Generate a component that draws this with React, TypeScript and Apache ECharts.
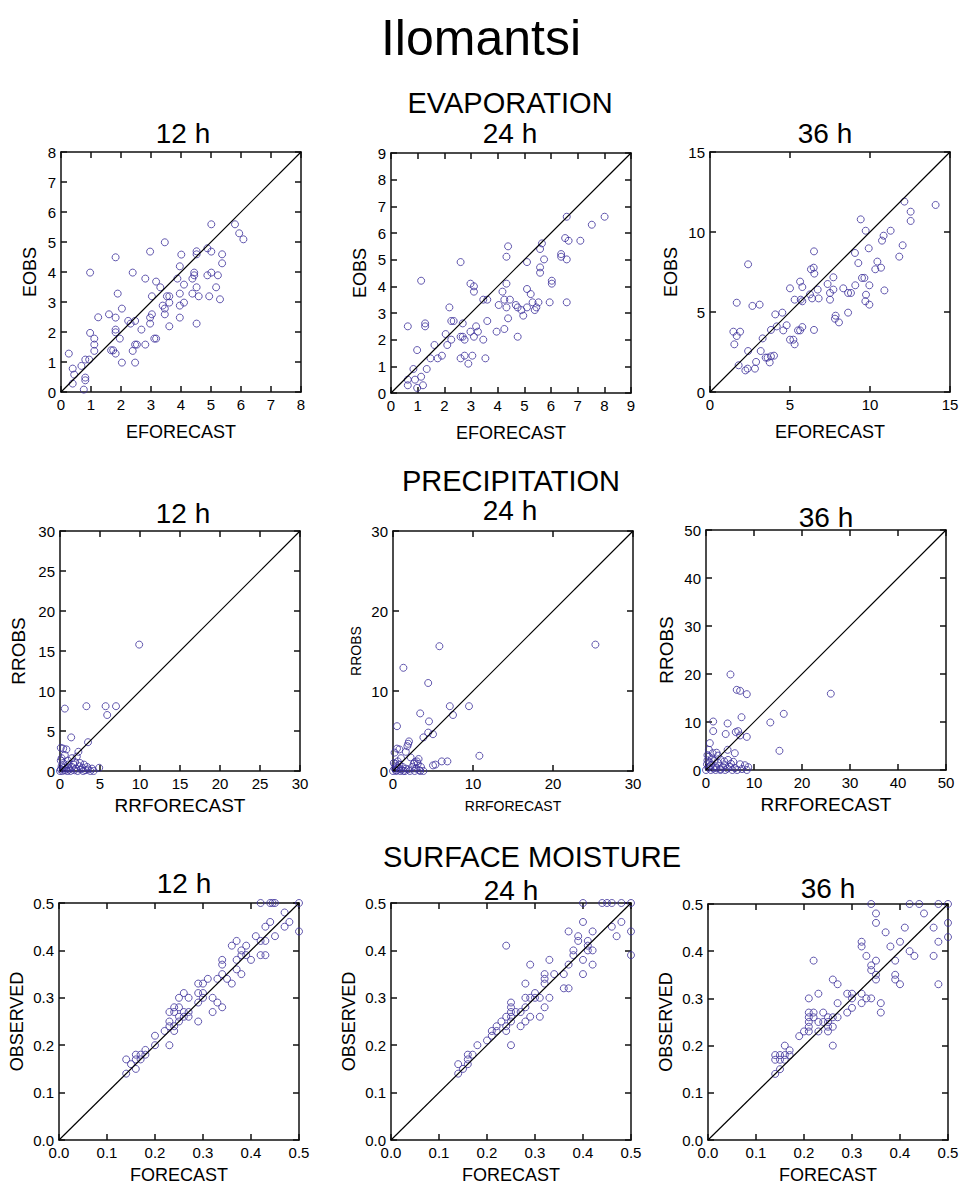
import React, { useEffect, useRef } from "react";
import * as echarts from "echarts";

// ---------- DATA ----------
const mainTitle = "Ilomantsi";
const sectionTitles = ["EVAPORATION", "PRECIPITATION", "SURFACE MOISTURE"];
const leadTimes = ["12 h", "24 h", "36 h"];

const evap12: number[][] = [
  [0.26, 1.28], [0.39, 0.78], [0.44, 0.58], [0.39, 0.28], [0.76, 0.08], [0.81, 0.48], [0.81, 0.39], [0.68, 0.87],
  [0.81, 1.08], [0.94, 1.08], [0.97, 3.98], [0.97, 1.97], [1.11, 1.78], [1.11, 1.58], [1.11, 1.37], [1.24, 2.49],
  [1.6, 2.59], [1.67, 1.39], [1.74, 1.39], [1.82, 1.28], [1.82, 2.48], [1.82, 4.49], [1.89, 3.28], [1.82, 2.08],
  [1.82, 1.99], [1.96, 1.78], [2.03, 2.78], [2.03, 0.98], [2.24, 2.37], [2.32, 2.28], [2.47, 2.37], [2.39, 3.98],
  [2.39, 1.37], [2.47, 1.58], [2.53, 1.58], [2.47, 0.98], [2.68, 2.08], [2.81, 1.58], [2.81, 3.78], [2.97, 4.68],
  [2.97, 2.48], [2.97, 2.28], [3.03, 2.59], [3.03, 3.19], [3.11, 1.78], [3.17, 1.78], [3.17, 3.68], [3.31, 3.49],
  [3.46, 4.99], [3.39, 2.88], [3.46, 2.78], [3.46, 2.59], [3.53, 3.19], [3.61, 3.19], [3.61, 2.98], [3.61, 2.19],
  [3.88, 3.78], [3.96, 4.19], [3.96, 3.28], [3.96, 2.88], [3.96, 2.48], [4.01, 4.58], [4.1, 3.58], [4.1, 2.98],
  [4.38, 3.78], [4.38, 3.28], [4.44, 3.98], [4.44, 3.89], [4.52, 4.69], [4.52, 4.59], [4.52, 3.49], [4.52, 2.28],
  [4.59, 3.19], [4.88, 4.79], [4.88, 3.89], [4.94, 3.19], [5.01, 5.59], [5.01, 4.68], [5.01, 3.98], [5.17, 3.49],
  [5.23, 3.89], [5.3, 3.09], [5.37, 4.59], [5.37, 4.29], [5.8, 5.59], [5.94, 5.29], [6.08, 5.09],
];

const evap24: number[][] = [
  [0.63, 2.5], [0.63, 0.29], [0.63, 0.5], [0.84, 0.9], [0.9, 0.5], [0.98, 1.61], [0.98, 0.19], [1.13, 0.61],
  [1.2, 0.29], [1.13, 4.21], [1.28, 2.61], [1.28, 2.5], [1.34, 0.9], [1.48, 1.3], [1.63, 1.8], [1.75, 1.3],
  [1.91, 1.4], [2.05, 2.21], [2.11, 1.8], [2.19, 3.21], [2.26, 2.0], [2.26, 2.7], [2.35, 2.7], [2.61, 4.91],
  [2.61, 1.3], [2.61, 2.11], [2.69, 2.61], [2.69, 2.11], [2.76, 2.0], [2.76, 1.4], [2.9, 1.1], [2.98, 4.1],
  [2.98, 2.3], [3.05, 1.4], [3.11, 4.0], [3.11, 3.8], [3.11, 2.11], [3.19, 2.5], [3.26, 2.3], [3.46, 2.0],
  [3.46, 3.5], [3.54, 1.3], [3.61, 2.7], [3.61, 3.5], [3.96, 2.3], [4.04, 3.3], [4.18, 3.8], [4.25, 2.4],
  [4.25, 3.5], [4.33, 4.1], [4.33, 5.11], [4.33, 3.21], [4.39, 5.5], [4.39, 2.8], [4.46, 3.5], [4.68, 3.3],
  [4.75, 3.21], [4.75, 2.11], [4.89, 3.11], [4.96, 2.9], [5.1, 3.9], [5.1, 3.21], [5.1, 4.91], [5.24, 3.71],
  [5.31, 3.4], [5.39, 3.11], [5.45, 3.21], [5.53, 3.4], [5.59, 4.71], [5.59, 4.51], [5.59, 5.4], [5.66, 5.61],
  [5.74, 5.01], [5.95, 3.4], [6.03, 4.21], [6.03, 4.1], [6.38, 5.21], [6.38, 5.11], [6.53, 5.81], [6.59, 5.01],
  [6.59, 3.4], [6.59, 6.61], [6.66, 5.71], [7.1, 5.71], [7.53, 6.31], [8.01, 6.61],
];

const evap36: number[][] = [
  [1.52, 2.98], [1.46, 3.77], [1.67, 3.5], [1.88, 3.77], [1.67, 5.58], [1.79, 1.67], [2.21, 1.35], [2.35, 1.46],
  [2.81, 1.46], [2.88, 1.88], [2.38, 2.56], [2.38, 7.98], [2.65, 5.38], [3.1, 5.46], [3.17, 2.56], [3.29, 3.35],
  [3.48, 2.15], [3.6, 2.15], [3.73, 1.85], [3.81, 2.23], [4.0, 2.27], [3.81, 3.88], [4.08, 4.85], [4.17, 4.1],
  [4.52, 4.96], [4.58, 3.85], [4.79, 4.17], [5.0, 3.27], [5.21, 3.27], [5.29, 2.98], [5.0, 6.48], [5.29, 5.77],
  [5.5, 3.85], [5.63, 3.85], [5.77, 4.06], [5.63, 6.9], [5.77, 6.56], [5.67, 5.77], [5.77, 5.67], [6.25, 6.1],
  [6.38, 5.85], [6.31, 7.67], [6.48, 7.77], [6.52, 7.4], [6.5, 8.79], [6.5, 3.88], [6.73, 6.4], [6.79, 5.85],
  [7.35, 6.75], [7.5, 6.19], [7.5, 5.77], [7.71, 7.17], [7.71, 6.4], [7.81, 4.58], [7.85, 4.77], [8.06, 4.35],
  [8.33, 6.48], [8.63, 6.19], [8.81, 6.19], [8.63, 4.96], [9.06, 8.69], [9.08, 6.67], [9.27, 8.06], [9.42, 10.79],
  [9.5, 7.13], [9.65, 7.13], [9.73, 10.08], [9.75, 6.08], [9.71, 5.67], [9.92, 8.98], [9.96, 6.67], [9.96, 5.46],
  [10.33, 7.67], [10.46, 8.15], [10.69, 7.77], [10.75, 9.46], [10.85, 9.77], [10.9, 6.35], [11.29, 10.08],
  [11.83, 8.46], [12.04, 9.17], [12.15, 11.9], [12.54, 11.27], [12.54, 10.69], [14.1, 11.69],
];

const prec12: number[][] = [
  [9.9, 15.8], [0.6, 7.8], [3.3, 8.1], [5.7, 8.1], [7.0, 8.1], [5.9, 7.0], [1.4, 4.2], [3.5, 3.6],
  [0.1, 2.9], [0.4, 2.8], [0.8, 2.7], [2.3, 2.4], [0.6, 2.0], [1.5, 1.6], [2.1, 1.8], [0.1, 1.3],
  [0.4, 1.0], [2.5, 1.0], [3.0, 0.8], [4.9, 0.4], [3.8, 0], [3.5, 0.2], [0.2, 0.6], [0.5, 0.4],
  [0.8, 0.3], [1.0, 0.8], [1.2, 0.2], [1.5, 0.5], [1.8, 0.1], [2.0, 0.3], [2.2, 0], [2.6, 0.2],
  [2.8, 0.4], [3.2, 0.1], [0, 0], [0.1, 0.2], [0.3, 0], [0.6, 0.1], [0.9, 0], [1.1, 0.4],
  [1.3, 0], [1.7, 0.8], [2.4, 0.6], [2.9, 0], [3.4, 0.5], [4.0, 0.3], [4.2, 0], [0.2, 1.6],
  [1.0, 1.3], [1.9, 1.1],
];

const prec24: number[][] = [
  [25.3, 15.8], [5.8, 15.6], [1.3, 12.9], [4.4, 11.0], [7.1, 8.1], [9.5, 8.1], [7.5, 7.0], [3.4, 7.2],
  [4.5, 6.2], [0.5, 5.6], [4.4, 4.8], [5.0, 4.6], [3.8, 4.2], [2.0, 3.7], [1.9, 3.4], [1.8, 3.1],
  [1.6, 2.4], [0.8, 2.7], [0.5, 2.8], [0.2, 2.3], [1.0, 1.6], [2.2, 1.7], [3.2, 1.5], [10.8, 1.9],
  [6.1, 1.2], [6.8, 1.2], [5.0, 0.7], [5.3, 0.8], [2.7, 1.1], [3.1, 0.9], [3.5, 0.5], [3.3, 0.1],
  [3.8, 0], [2.7, 0], [2.1, 0], [1.5, 0], [0, 0], [0.2, 0.3], [0.4, 0.1], [0.5, 0.6],
  [0.3, 0.9], [0.7, 0.4], [0.8, 0.8], [1.0, 0.2], [1.2, 0.5], [0.1, 1.0], [0.6, 1.2], [0.9, 0],
  [1.3, 0], [1.6, 0.3], [1.9, 0.2], [2.4, 0.5], [2.6, 0.9], [2.9, 0.3], [3.0, 1.2], [3.4, 0], [0.4, 0],
];

const prec36: number[][] = [
  [5.1, 19.9], [6.4, 16.7], [7.1, 16.5], [8.5, 15.8], [26.0, 15.9], [16.2, 11.7], [13.4, 9.9], [7.4, 11.0],
  [1.5, 10.1], [4.5, 9.7], [1.5, 8.1], [4.1, 7.5], [6.2, 7.9], [6.7, 8.1], [7.1, 7.2], [8.5, 6.9],
  [15.3, 4.0], [0.8, 5.6], [0.6, 4.2], [4.5, 4.2], [6.0, 3.5], [2.2, 3.6], [0.3, 3.1], [4.6, 2.1],
  [5.7, 1.7], [7.1, 1.2], [8.1, 1.0], [8.8, 0.6], [8.5, 0], [0, 0], [0.5, 0.5], [1.0, 1.0],
  [1.5, 0.3], [2.0, 0.8], [2.5, 1.5], [3.0, 0.2], [3.5, 0.6], [4.0, 1.0], [4.5, 0.3], [5.0, 0.7],
  [5.5, 0], [6.0, 0.4], [0.3, 2.0], [0.6, 2.8], [1.2, 2.4], [1.8, 1.9], [2.5, 3.0], [3.0, 2.2],
  [0.2, 1.2], [1.0, 0], [2.0, 0], [3.0, 0], [4.0, 0], [6.5, 0], [7.5, 0.2], [1.4, 3.5],
  [2.2, 0.4], [0.8, 1.6], [3.8, 1.8], [5.2, 1.3],
];

const moist12: number[][] = [
  [0.14, 0.14], [0.14, 0.17], [0.15, 0.16], [0.16, 0.15], [0.16, 0.18], [0.16, 0.17], [0.17, 0.18], [0.17, 0.17],
  [0.18, 0.19], [0.18, 0.18], [0.2, 0.2], [0.2, 0.22], [0.22, 0.23], [0.23, 0.2], [0.23, 0.25], [0.23, 0.24],
  [0.23, 0.27], [0.24, 0.23], [0.24, 0.24], [0.24, 0.28], [0.24, 0.27], [0.25, 0.25], [0.25, 0.26], [0.25, 0.28],
  [0.25, 0.3], [0.26, 0.31], [0.26, 0.27], [0.26, 0.26], [0.27, 0.3], [0.27, 0.27], [0.27, 0.26], [0.29, 0.25],
  [0.29, 0.29], [0.29, 0.31], [0.29, 0.33], [0.3, 0.33], [0.3, 0.31], [0.3, 0.3], [0.31, 0.34], [0.32, 0.3],
  [0.32, 0.27], [0.33, 0.29], [0.33, 0.34], [0.34, 0.28], [0.34, 0.35], [0.34, 0.38], [0.34, 0.37], [0.35, 0.34],
  [0.36, 0.33], [0.36, 0.41], [0.37, 0.42], [0.37, 0.38], [0.37, 0.36], [0.38, 0.35], [0.38, 0.39], [0.38, 0.4],
  [0.39, 0.41], [0.39, 0.39], [0.4, 0.38], [0.41, 0.43], [0.42, 0.42], [0.42, 0.39], [0.42, 0.5], [0.43, 0.39],
  [0.43, 0.45], [0.43, 0.42], [0.44, 0.5], [0.44, 0.46], [0.445, 0.5], [0.45, 0.43], [0.45, 0.5], [0.47, 0.45],
  [0.47, 0.48], [0.48, 0.46], [0.5, 0.5], [0.5, 0.44],
];

const moist24: number[][] = [
  [0.14, 0.14], [0.14, 0.16], [0.15, 0.15], [0.16, 0.16], [0.16, 0.18], [0.16, 0.17], [0.17, 0.18], [0.18, 0.2],
  [0.2, 0.21], [0.21, 0.22], [0.21, 0.23], [0.22, 0.24], [0.22, 0.23], [0.23, 0.25], [0.24, 0.26], [0.24, 0.23],
  [0.24, 0.24], [0.24, 0.41], [0.25, 0.2], [0.25, 0.25], [0.25, 0.29], [0.25, 0.28], [0.25, 0.27], [0.25, 0.26],
  [0.26, 0.27], [0.27, 0.24], [0.27, 0.27], [0.28, 0.25], [0.28, 0.28], [0.28, 0.3], [0.28, 0.33], [0.29, 0.26],
  [0.29, 0.37], [0.29, 0.3], [0.3, 0.31], [0.3, 0.3], [0.31, 0.3], [0.31, 0.26], [0.32, 0.28], [0.32, 0.33],
  [0.32, 0.34], [0.32, 0.35], [0.33, 0.38], [0.33, 0.3], [0.34, 0.35], [0.36, 0.35], [0.36, 0.32], [0.37, 0.32],
  [0.37, 0.37], [0.37, 0.44], [0.38, 0.4], [0.38, 0.39], [0.39, 0.43], [0.39, 0.42], [0.4, 0.46], [0.4, 0.38],
  [0.4, 0.35], [0.4, 0.5], [0.41, 0.42], [0.41, 0.41], [0.41, 0.4], [0.42, 0.44], [0.42, 0.4], [0.42, 0.37],
  [0.44, 0.5], [0.45, 0.5], [0.46, 0.5], [0.46, 0.45], [0.47, 0.43], [0.48, 0.46], [0.48, 0.5], [0.5, 0.5],
  [0.5, 0.44], [0.5, 0.39],
];

const moist36: number[][] = [
  [0.14, 0.14], [0.14, 0.17], [0.14, 0.18], [0.15, 0.15], [0.15, 0.17], [0.15, 0.18], [0.16, 0.17], [0.16, 0.18],
  [0.16, 0.2], [0.17, 0.18], [0.17, 0.19], [0.19, 0.22], [0.2, 0.23], [0.21, 0.23], [0.21, 0.24], [0.21, 0.25],
  [0.21, 0.26], [0.21, 0.27], [0.21, 0.3], [0.22, 0.27], [0.22, 0.26], [0.22, 0.38], [0.23, 0.23], [0.23, 0.25],
  [0.23, 0.31], [0.24, 0.27], [0.24, 0.25], [0.25, 0.26], [0.25, 0.25], [0.25, 0.24], [0.25, 0.23], [0.26, 0.2],
  [0.26, 0.24], [0.26, 0.26], [0.26, 0.34], [0.27, 0.26], [0.27, 0.29], [0.27, 0.33], [0.29, 0.27], [0.29, 0.31],
  [0.3, 0.31], [0.3, 0.28], [0.3, 0.3], [0.32, 0.31], [0.32, 0.29], [0.32, 0.42], [0.32, 0.41], [0.33, 0.3],
  [0.33, 0.39], [0.34, 0.3], [0.34, 0.36], [0.34, 0.37], [0.34, 0.5], [0.35, 0.35], [0.35, 0.34], [0.35, 0.38],
  [0.35, 0.48], [0.35, 0.46], [0.36, 0.29], [0.36, 0.27], [0.37, 0.44], [0.38, 0.41], [0.39, 0.35], [0.39, 0.34],
  [0.39, 0.38], [0.4, 0.33], [0.4, 0.42], [0.41, 0.45], [0.42, 0.5], [0.42, 0.4], [0.43, 0.39], [0.44, 0.5],
  [0.45, 0.48], [0.47, 0.45], [0.47, 0.39], [0.48, 0.33], [0.48, 0.42], [0.48, 0.5], [0.5, 0.5], [0.5, 0.46],
  [0.5, 0.43],
];

// ---------- LAYOUT / CONFIG ----------
const FONT = "Liberation Sans, Arial, sans-serif";
const MARK = "#3b2e9a";

type Panel = {
  data: number[][];
  max: number;
  interval: number;
  decimals: number;
  xName: string;
  yName: string;
  left: number;
  top: number;
  nameSize: number;
  labelSize: number;
  xNameGap: number;
  yNameGap: number;
};

const SIZE = 240;

const panels: Panel[] = [
  { data: evap12, max: 8, interval: 1, decimals: 0, xName: "EFORECAST", yName: "EOBS", left: 61, top: 152, nameSize: 18, labelSize: 15, xNameGap: 31, yNameGap: 22 },
  { data: evap24, max: 9, interval: 1, decimals: 0, xName: "EFORECAST", yName: "EOBS", left: 391, top: 153, nameSize: 18, labelSize: 15, xNameGap: 31, yNameGap: 22 },
  { data: evap36, max: 15, interval: 5, decimals: 0, xName: "EFORECAST", yName: "EOBS", left: 710, top: 152, nameSize: 18, labelSize: 15, xNameGap: 31, yNameGap: 30 },
  { data: prec12, max: 30, interval: 5, decimals: 0, xName: "RRFORECAST", yName: "RROBS", left: 60, top: 531, nameSize: 19, labelSize: 15, xNameGap: 25, yNameGap: 32 },
  { data: prec24, max: 30, interval: 10, decimals: 0, xName: "RRFORECAST", yName: "RROBS", left: 393, top: 531, nameSize: 14, labelSize: 15, xNameGap: 28, yNameGap: 30 },
  { data: prec36, max: 50, interval: 10, decimals: 0, xName: "RRFORECAST", yName: "RROBS", left: 706, top: 530, nameSize: 19, labelSize: 15, xNameGap: 25, yNameGap: 30 },
  { data: moist12, max: 0.5, interval: 0.1, decimals: 1, xName: "FORECAST", yName: "OBSERVED", left: 59, top: 903, nameSize: 18, labelSize: 15, xNameGap: 26, yNameGap: 33 },
  { data: moist24, max: 0.5, interval: 0.1, decimals: 1, xName: "FORECAST", yName: "OBSERVED", left: 391, top: 903, nameSize: 18, labelSize: 15, xNameGap: 26, yNameGap: 33 },
  { data: moist36, max: 0.5, interval: 0.1, decimals: 1, xName: "FORECAST", yName: "OBSERVED", left: 708, top: 904, nameSize: 18, labelSize: 15, xNameGap: 26, yNameGap: 33 },
];

const sectionTitlePos = [
  { x: 510, y: 103 },
  { x: 511, y: 481 },
  { x: 532, y: 857 },
];
const panelTitlePos = [
  [{ x: 183, y: 133 }, { x: 510, y: 133 }, { x: 825, y: 133 }],
  [{ x: 183, y: 513 }, { x: 510, y: 510 }, { x: 826, y: 517 }],
  [{ x: 184, y: 883 }, { x: 511, y: 890 }, { x: 828, y: 888 }],
];

function buildOption() {
  const grid: any[] = [];
  const xAxis: any[] = [];
  const yAxis: any[] = [];
  const series: any[] = [];
  const lineStyle = { color: "#111", width: 1.5 };
  panels.forEach((p, i) => {
    grid.push({ left: p.left, top: p.top, width: SIZE, height: SIZE, containLabel: false });
    const fmt = (v: number) => v.toFixed(p.decimals);
    const common = {
      type: "value",
      gridIndex: i,
      min: 0,
      max: p.max,
      interval: p.interval,
      splitLine: { show: false },
      axisLine: { show: true, onZero: false, lineStyle },
      axisTick: { show: true, inside: true, length: 6, lineStyle },
    };
    xAxis.push({
      ...common,
      position: "bottom",
      axisLabel: { show: true, formatter: fmt, fontSize: p.labelSize, color: "#000", fontFamily: FONT, margin: 5, showMinLabel: true, showMaxLabel: true },
      name: p.xName,
      nameLocation: "middle",
      nameGap: p.xNameGap,
      nameTextStyle: { fontSize: p.nameSize, color: "#000", fontFamily: FONT },
    });
    xAxis.push({ ...common, position: "top", axisLabel: { show: false } });
    yAxis.push({
      ...common,
      position: "left",
      axisLabel: { show: true, formatter: fmt, fontSize: p.labelSize, color: "#000", fontFamily: FONT, margin: 5, showMinLabel: true, showMaxLabel: true },
      name: p.yName,
      nameLocation: "middle",
      nameGap: p.yNameGap,
      nameTextStyle: { fontSize: p.nameSize, color: "#000", fontFamily: FONT },
    });
    yAxis.push({ ...common, position: "right", axisLabel: { show: false } });
    series.push({
      type: "line",
      xAxisIndex: 2 * i,
      yAxisIndex: 2 * i,
      data: [[0, 0], [p.max, p.max]],
      symbol: "none",
      lineStyle: { color: "#000", width: 1.2 },
      silent: true,
    });
    series.push({
      type: "scatter",
      xAxisIndex: 2 * i,
      yAxisIndex: 2 * i,
      data: p.data,
      symbol: "circle",
      symbolSize: 7,
      clip: false,
      itemStyle: { color: "rgba(0,0,0,0)", borderColor: MARK, borderWidth: 1 },
    });
  });

  const graphic: any[] = [
    {
      type: "text",
      x: 481,
      y: 38,
      style: { text: mainTitle, fontSize: 50, fontFamily: FONT, fill: "#000", textAlign: "center", textVerticalAlign: "middle" },
    },
  ];
  sectionTitles.forEach((t, r) => {
    graphic.push({
      type: "text",
      x: sectionTitlePos[r].x,
      y: sectionTitlePos[r].y,
      style: { text: t, fontSize: 29, fontFamily: FONT, fill: "#000", textAlign: "center", textVerticalAlign: "middle" },
    });
    leadTimes.forEach((lt, c) => {
      graphic.push({
        type: "text",
        x: panelTitlePos[r][c].x,
        y: panelTitlePos[r][c].y,
        style: { text: lt, fontSize: 28, fontFamily: FONT, fill: "#000", textAlign: "center", textVerticalAlign: "middle" },
      });
    });
  });

  return {
    animation: false,
    backgroundColor: "#fff",
    textStyle: { fontFamily: FONT },
    grid,
    xAxis,
    yAxis,
    series,
    graphic,
  };
}

export default function App() {
  const ref = useRef<HTMLDivElement>(null);
  useEffect(() => {
    if (!ref.current) return;
    const chart = echarts.init(ref.current, undefined, { renderer: "svg" });
    chart.setOption(buildOption() as any);
    return () => chart.dispose();
  }, []);
  return (
    <div
      ref={ref}
      style={{ position: "fixed", left: 0, top: 0, width: 963, height: 1185, background: "#fff" }}
    />
  );
}
